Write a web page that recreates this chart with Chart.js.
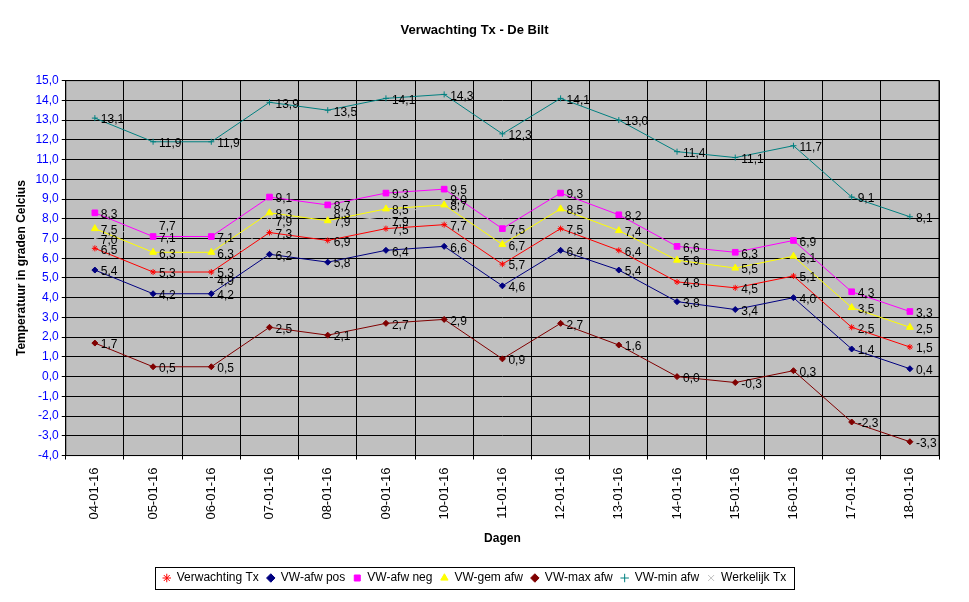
<!DOCTYPE html>
<html>
<head>
<meta charset="utf-8">
<script src="https://cdn.jsdelivr.net/npm/chart.js@4"></script>
<style>
body { margin: 0; background: #fff; }
#wrap { width: 969px; height: 602px; position: relative; }
</style>
</head>
<body>
<div id="wrap"><canvas id="c"></canvas></div>
<script>
const dagen = ['04-01-16','05-01-16','06-01-16','07-01-16','08-01-16','09-01-16','10-01-16','11-01-16','12-01-16','13-01-16','14-01-16','15-01-16','16-01-16','17-01-16','18-01-16'];
const verwachting = [6.5, 5.3, 5.3, 7.3, 6.9, 7.5, 7.7, 5.7, 7.5, 6.4, 4.8, 4.5, 5.1, 2.5, 1.5];
const afwPos = [5.4, 4.2, 4.2, 6.2, 5.8, 6.4, 6.6, 4.6, 6.4, 5.4, 3.8, 3.4, 4.0, 1.4, 0.4];
const afwNeg = [8.3, 7.1, 7.1, 9.1, 8.7, 9.3, 9.5, 7.5, 9.3, 8.2, 6.6, 6.3, 6.9, 4.3, 3.3];
const gemAfw = [7.5, 6.3, 6.3, 8.3, 7.9, 8.5, 8.7, 6.7, 8.5, 7.4, 5.9, 5.5, 6.1, 3.5, 2.5];
const maxAfw = [1.7, 0.5, 0.5, 2.5, 2.1, 2.7, 2.9, 0.9, 2.7, 1.6, 0.0, -0.3, 0.3, -2.3, -3.3];
const minAfw = [13.1, 11.9, 11.9, 13.9, 13.5, 14.1, 14.3, 12.3, 14.1, 13.0, 11.4, 11.1, 11.7, 9.1, 8.1];
const werkelijk = [7.0, 7.7, 4.9, 7.9, 8.3, 7.9, 9.0, null, null, null, null, null, null, null, null];

function ds(label, data, color, style, size) {
    return { label, data, borderColor: color, backgroundColor: color, borderWidth: 1,
        pointStyle: style, pointRadius: size, pointBorderWidth: 1, tension: 0, spanGaps: false };
}

// Excel-like plot background and value labels
const plotBg = {
    id: 'plotBg',
    beforeDraw(chart) {
        const a = chart.chartArea, c = chart.ctx;
        c.save(); c.fillStyle = '#C0C0C0';
        c.fillRect(a.left, a.top, a.right - a.left, a.bottom - a.top);
        c.restore();
    },
    afterDatasetsDraw(chart) {
        const c = chart.ctx;
        c.save();
        c.font = '12px Arial, "Liberation Sans"';
        c.fillStyle = '#000'; c.textBaseline = 'middle';
        chart.data.datasets.forEach((d, i) => {
            chart.getDatasetMeta(i).data.forEach((p, j) => {
                const v = d.data[j];
                if (v == null) return;
                c.fillText(v.toFixed(1).replace('.', ','), p.x + 6, p.y + 2);
            });
        });
        c.restore();
    },
    afterDraw(chart) {
        const a = chart.chartArea, c = chart.ctx;
        c.save(); c.strokeStyle = '#000'; c.lineWidth = 1;
        c.strokeRect(a.left, a.top, a.right - a.left, a.bottom - a.top);
        // legend box around the items only
        const hb = chart.legend.legendHitBoxes;
        if (hb && hb.length) {
            const x0 = Math.min(...hb.map(h => h.left)) - 8;
            const x1 = Math.max(...hb.map(h => h.left + h.width)) + 8;
            const y0 = Math.min(...hb.map(h => h.top)) - 5;
            const y1 = Math.max(...hb.map(h => h.top + h.height)) + 5;
            c.strokeRect(Math.round(x0) + 0.5, Math.round(y0) + 0.5, Math.round(x1 - x0), Math.round(y1 - y0));
        }
        c.restore();
    }
};

new Chart(document.getElementById('c'), {
    type: 'line',
    data: {
        labels: dagen,
        datasets: [
            ds('Verwachting Tx', verwachting, '#FF0000', 'star', 3),
            ds('VW-afw pos', afwPos, '#000080', 'rectRot', 3),
            ds('VW-afw neg', afwNeg, '#FF00FF', 'rect', 4),
            ds('VW-gem afw', gemAfw, '#FFFF00', 'triangle', 4),
            ds('VW-max afw', maxAfw, '#800000', 'rectRot', 3),
            ds('VW-min afw', minAfw, '#008080', 'cross', 3),
            ds('Werkelijk Tx', werkelijk, '#C0C0C0', 'crossRot', 4)
        ]
    },
    options: {
        responsive: true,
        maintainAspectRatio: false,
        animation: false,
        layout: { padding: { left: 10, right: 30, top: 5, bottom: 8 } },
        plugins: {
            title: { display: true, text: 'Verwachting Tx - De Bilt', color: '#000',
                font: { family: 'Arial, "Liberation Sans"', size: 13, weight: 'bold' }, padding: { top: 18, bottom: 42 } },
            legend: { position: 'bottom',
                labels: { color: '#000', usePointStyle: true, boxWidth: 8, boxHeight: 6, padding: 8,
                    font: { family: 'Arial, "Liberation Sans"', size: 12 } } },
            tooltip: { enabled: false }
        },
        scales: {
            y: {
                min: -4, max: 15,
                ticks: { stepSize: 1, color: '#0000FF', font: { family: 'Arial, "Liberation Sans"', size: 12 },
                    callback: v => v.toFixed(1).replace('.', ',') },
                grid: { color: '#000', drawTicks: true, tickLength: 4 },
                border: { color: '#000' },
                title: { display: true, text: 'Temperatuur in graden Celcius', color: '#000',
                    font: { family: 'Arial, "Liberation Sans"', size: 12, weight: 'bold' } }
            },
            x: {
                offset: true,
                ticks: { color: '#000', maxRotation: 90, minRotation: 90, padding: 8, font: { family: 'Arial, "Liberation Sans"', size: 13 } },
                grid: { color: '#000', offset: true, tickLength: 4 },
                border: { color: '#000' },
                title: { display: true, text: 'Dagen', color: '#000', padding: { top: 4, bottom: 18 },
                    font: { family: 'Arial, "Liberation Sans"', size: 12, weight: 'bold' } }
            }
        }
    },
    plugins: [plotBg]
});
</script>
</body>
</html>
